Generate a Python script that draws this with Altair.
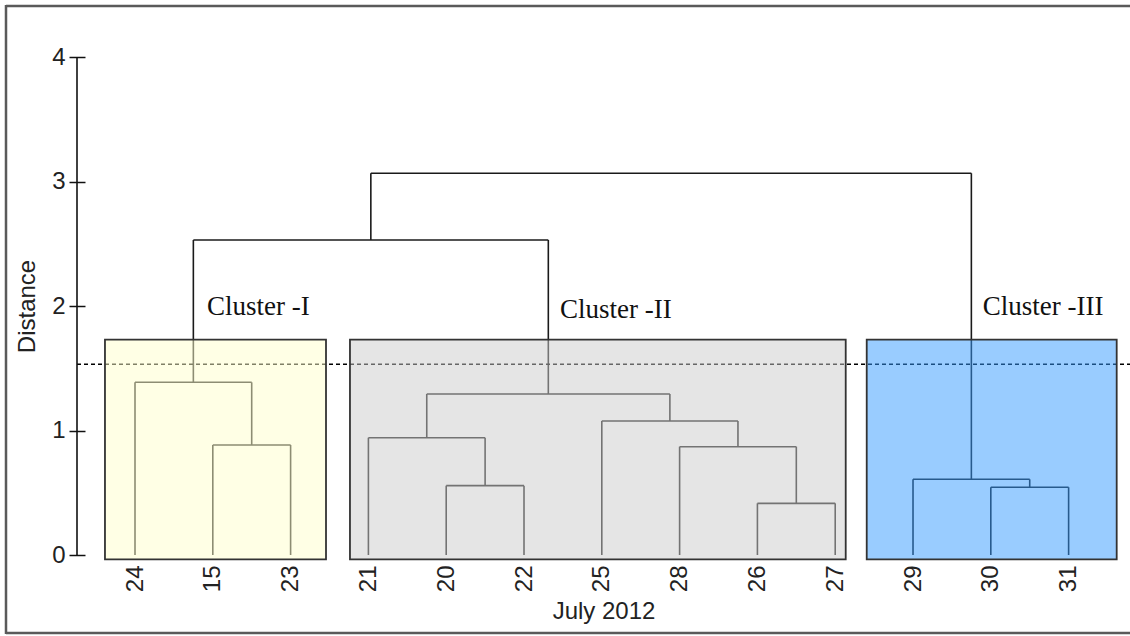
import altair as alt
import pandas as pd

# Leaf order along the x axis (days of July 2012)
leaves = ["24", "15", "23", "21", "20", "22", "25", "28", "26", "27", "29", "30", "31"]

# Agglomerative merges: new node, left child, right child, merge distance
node_names = ["A", "C1", "B", "D", "E", "F", "G", "C2", "H", "C3", "I", "R"]
left_child = ["15", "24", "20", "21", "26", "28", "25", "D", "30", "29", "C1", "I"]
right_child = ["23", "A", "22", "B", "27", "E", "F", "G", "31", "H", "C2", "C3"]
merge_height = [0.884, 1.387, 0.557, 0.942, 0.415, 0.870, 1.076, 1.293, 0.544, 0.608, 2.530, 3.066]

# Cut level
cut_height = 1.532

# Cluster boxes (leaf-index units on x, distance on y)
cluster_names = ["Cluster -I", "Cluster -II", "Cluster -III"]
box_left = [-0.386, 2.763, 9.405]
box_right = [2.455, 9.135, 12.618]
box_bottom = [-0.035, -0.035, -0.035]
box_top = [1.73, 1.73, 1.73]
box_colors = ["#ffffcc", "#cccccc", "#3399ff"]
label_x = [0.925, 5.463, 10.896]
label_y = [1.925, 1.905, 1.925]

# ---- build dendrogram link segments from the merge table ----
pos = {name: float(i) for i, name in enumerate(leaves)}
hgt = {name: 0.0 for name in leaves}
segs = []
for n, l, r, h in zip(node_names, left_child, right_child, merge_height):
    segs.append(dict(x=pos[l], x2=pos[l], y=hgt[l], y2=h))
    segs.append(dict(x=pos[r], x2=pos[r], y=hgt[r], y2=h))
    segs.append(dict(x=pos[l], x2=pos[r], y=h, y2=h))
    pos[n] = (pos[l] + pos[r]) / 2
    hgt[n] = h
seg_df = pd.DataFrame(segs)

box_df = pd.DataFrame(dict(cluster=cluster_names, x=box_left, x2=box_right,
                           y=box_bottom, y2=box_top, lx=label_x, ly=label_y))

x_scale = alt.Scale(domain=[-0.7455, 12.789], nice=False, zero=False)
y_scale = alt.Scale(domain=[0, 4], nice=False)

label_expr = "[" + ",".join(f"'{d}'" for d in leaves) + "][datum.value]"
SANS = "Liberation Sans"

x_axis = alt.Axis(values=list(range(len(leaves))), labelExpr=label_expr, labelAngle=270,
                  labelFontSize=24, labelFont=SANS, labelColor="#222", ticks=False,
                  domain=False, grid=False, labelPadding=10, title="July 2012",
                  titleFont=SANS, titleFontSize=24, titleFontWeight="normal",
                  titleColor="#222", titlePadding=8)
y_axis = alt.Axis(values=[0, 1, 2, 3, 4], format="d", offset=-8, tickSize=16,
                  tickColor="#111", tickWidth=1.5, domain=False, grid=False,
                  labelFontSize=24, labelFont=SANS, labelColor="#222", labelPadding=4,
                  title="Distance", titleFont=SANS, titleFontSize=24,
                  titleFontWeight="normal", titleColor="#222", titlePadding=12)

links = alt.Chart(seg_df).mark_rule(color="#1a1a1a", strokeWidth=1.6).encode(
    x=alt.X("x:Q", scale=x_scale, axis=x_axis),
    x2="x2:Q",
    y=alt.Y("y:Q", scale=y_scale, axis=y_axis),
    y2="y2:Q",
)

cut = alt.Chart(pd.DataFrame(dict(h=[cut_height]))).mark_rule(
    color="#000", strokeWidth=1.3, strokeDash=[4, 3]
).encode(x=alt.value(0), x2=alt.value(1053), y=alt.Y("h:Q", scale=y_scale))

boxes = alt.Chart(box_df).mark_rect(fillOpacity=0.5, stroke="#333", strokeWidth=1.8,
                                    strokeOpacity=1).encode(
    x=alt.X("x:Q", scale=x_scale), x2="x2:Q",
    y=alt.Y("y:Q", scale=y_scale), y2="y2:Q",
    fill=alt.Fill("cluster:N", scale=alt.Scale(domain=cluster_names, range=box_colors),
                  legend=None),
)

labels = alt.Chart(box_df).mark_text(font="Liberation Serif", fontSize=27, align="left",
                                     baseline="alphabetic", color="#111").encode(
    x=alt.X("lx:Q", scale=x_scale), y=alt.Y("ly:Q", scale=y_scale), text="cluster:N"
)

y_line = alt.Chart(pd.DataFrame(dict(a=[0], b=[4]))).mark_rule(
    color="#111", strokeWidth=1.6
).encode(x=alt.value(0), y=alt.Y("a:Q", scale=y_scale), y2="b:Q")

# outer figure frame (top, left, bottom edges)
frame_df = pd.DataFrame(dict(k=[0]))
frame_top = alt.Chart(frame_df).mark_rule(color="#5a5a5a", strokeWidth=2.5).encode(
    x=alt.value(-71), x2=alt.value(1060), y=alt.value(-51))
frame_left = alt.Chart(frame_df).mark_rule(color="#5a5a5a", strokeWidth=2.5).encode(
    x=alt.value(-71), y=alt.value(-52), y2=alt.value(577))
frame_bottom = alt.Chart(frame_df).mark_rule(color="#5a5a5a", strokeWidth=2.5).encode(
    x=alt.value(-71), x2=alt.value(1060), y=alt.value(576))

chart = alt.layer(
    frame_top, frame_left, frame_bottom, links, cut, boxes, labels, y_line
).properties(
    width=1053, height=498,
    padding={"left": 77, "top": 57, "right": 0, "bottom": 81},
    autosize=alt.AutoSizeParams(type="none"),
    background="white",
).configure_view(stroke=None)

chart.save("out.html", embed_options={"renderer": "svg", "actions": False})
